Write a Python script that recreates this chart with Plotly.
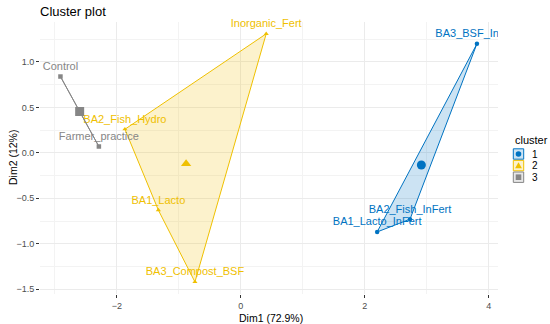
import plotly.graph_objects as go

# ---- data ----
names = ["Control", "Farmer_practice", "BA2_Fish_Hydro", "Inorganic_Fert",
         "BA1_Lacto", "BA3_Compost_BSF", "BA3_BSF_InFert", "BA2_Fish_InFert",
         "BA1_Lacto_InFert"]
dim1 = [-2.91, -2.29, -1.87, 0.41, -1.33, -0.74, 3.81, 2.73, 2.20]
dim2 = [0.84, 0.07, 0.26, 1.31, -0.63, -1.42, 1.20, -0.73, -0.87]
cluster = [3, 3, 2, 2, 2, 2, 1, 1, 1]

cluster_ids = [1, 2, 3]
cluster_colors = {1: "#0073C2", 2: "#EFC000", 3: "#868686"}
cluster_fills = {1: "rgba(0,115,194,0.2)", 2: "rgba(239,192,0,0.2)", 3: "rgba(134,134,134,0.2)"}
cluster_symbols = {1: "circle", 2: "triangle-up", 3: "square"}

FONT = "Liberation Sans, Arial, Helvetica, sans-serif"

W, H = 550, 324
ML, MR, MT, MB = 40, 52, 22, 30
PW, PH = W - ML - MR, H - MT - MB


def px_x(p):
    return (p - ML) / PW


def px_y(p):
    return (H - MB - p) / PH


def convex_hull(pts):
    pts = sorted(set(pts))
    if len(pts) <= 2:
        return pts

    def cross(o, a, b):
        return (a[0] - o[0]) * (b[1] - o[1]) - (a[1] - o[1]) * (b[0] - o[0])

    lower, upper = [], []
    for p in pts:
        while len(lower) >= 2 and cross(lower[-2], lower[-1], p) <= 0:
            lower.pop()
        lower.append(p)
    for p in reversed(pts):
        while len(upper) >= 2 and cross(upper[-2], upper[-1], p) <= 0:
            upper.pop()
        upper.append(p)
    return lower[:-1] + upper[:-1]


fig = go.Figure()

for c in cluster_ids:
    idx = [i for i, k in enumerate(cluster) if k == c]
    xs = [dim1[i] for i in idx]
    ys = [dim2[i] for i in idx]
    hull = convex_hull(list(zip(xs, ys)))
    hx = [p[0] for p in hull] + [hull[0][0]]
    hy = [p[1] for p in hull] + [hull[0][1]]
    fig.add_trace(go.Scatter(
        x=hx, y=hy, mode="lines", fill="toself",
        fillcolor=cluster_fills[c],
        line=dict(color=cluster_colors[c], width=1),
        showlegend=False, hoverinfo="skip"))
    fig.add_trace(go.Scatter(
        x=xs, y=ys, mode="markers+text",
        text=[names[i] for i in idx], textposition="top center",
        textfont=dict(family=FONT, size=11, color=cluster_colors[c]),
        marker=dict(symbol=cluster_symbols[c], size=4.5, color=cluster_colors[c]),
        # labels running past the right edge are clipped, as in the original
        cliponaxis=(c == 1), showlegend=False))
    # cluster centre
    fig.add_trace(go.Scatter(
        x=[sum(xs) / len(xs)], y=[sum(ys) / len(ys)], mode="markers",
        marker=dict(symbol=cluster_symbols[c], size=9, color=cluster_colors[c]),
        showlegend=False, hoverinfo="skip"))

# ---- axis titles ----
annotations = [
    dict(text="Dim1 (72.9%)", x=px_x(271), y=px_y(317.5), xref="paper", yref="paper",
         xanchor="center", yanchor="middle", showarrow=False,
         font=dict(family=FONT, size=10.5, color="black")),
    dict(text="Dim2 (12%)", x=px_x(13), y=px_y(158), xref="paper", yref="paper",
         xanchor="center", yanchor="middle", showarrow=False, textangle=-90,
         font=dict(family=FONT, size=10.5, color="black")),
]

# ---- manual legend (ggplot style) ----
shapes = []
annotations.append(dict(text="cluster", x=px_x(513), y=px_y(140), xref="paper", yref="paper",
                        xanchor="left", yanchor="middle", showarrow=False,
                        font=dict(family=FONT, size=11, color="black")))
key_cx, key_half = 518.5, 5.2
for j, c in enumerate(cluster_ids):
    cy = 154 + j * 11.6
    shapes.append(dict(type="rect", xref="paper", yref="paper",
                       x0=px_x(key_cx - key_half), x1=px_x(key_cx + key_half),
                       y0=px_y(cy + key_half), y1=px_y(cy - key_half),
                       fillcolor=cluster_fills[c], line=dict(color=cluster_colors[c], width=1)))
    r = 2.8
    if cluster_symbols[c] == "circle":
        shapes.append(dict(type="circle", xref="paper", yref="paper",
                           x0=px_x(key_cx - r), x1=px_x(key_cx + r),
                           y0=px_y(cy + r), y1=px_y(cy - r),
                           fillcolor=cluster_colors[c], line=dict(width=0)))
    elif cluster_symbols[c] == "square":
        shapes.append(dict(type="rect", xref="paper", yref="paper",
                           x0=px_x(key_cx - r), x1=px_x(key_cx + r),
                           y0=px_y(cy + r), y1=px_y(cy - r),
                           fillcolor=cluster_colors[c], line=dict(width=0)))
    else:
        path = "M {} {} L {} {} L {} {} Z".format(
            px_x(key_cx - 3.4), px_y(cy + 2.6),
            px_x(key_cx + 3.4), px_y(cy + 2.6),
            px_x(key_cx), px_y(cy - 3.4))
        shapes.append(dict(type="path", xref="paper", yref="paper", path=path,
                           fillcolor=cluster_colors[c], line=dict(width=0)))
    annotations.append(dict(text=str(c), x=px_x(530), y=px_y(cy), xref="paper", yref="paper",
                            xanchor="left", yanchor="middle", showarrow=False,
                            font=dict(family=FONT, size=10, color="black")))

axis_common = dict(
    showgrid=True, gridcolor="#EBEBEB", gridwidth=1,
    zeroline=False, showline=False, automargin=False,
    ticks="outside", ticklen=3, tickcolor="#333333", tickwidth=1,
    tickfont=dict(family=FONT, size=9, color="#4D4D4D"),
)

fig.update_layout(
    width=W, height=H,
    paper_bgcolor="white", plot_bgcolor="white",
    margin=dict(l=ML, r=MR, t=MT, b=MB),
    showlegend=False,
    title=dict(text="Cluster plot", x=40 / W, xanchor="left", y=1 - 11 / H, yanchor="middle",
               font=dict(family=FONT, size=13, color="black")),
    xaxis=dict(range=[-3.24, 4.15], dtick=2, tick0=0,
               minor=dict(showgrid=True, gridcolor="#F3F3F3", gridwidth=1, dtick=1),
               **axis_common),
    yaxis=dict(range=[-1.553, 1.44], dtick=0.5, tick0=0, tickformat=".1f",
               minor=dict(showgrid=True, gridcolor="#F3F3F3", gridwidth=1, dtick=0.25),
               **axis_common),
    shapes=shapes,
    annotations=annotations,
)

fig.write_html("out.html", config={"displayModeBar": False},
               post_script="document.body.style.margin='0';")
